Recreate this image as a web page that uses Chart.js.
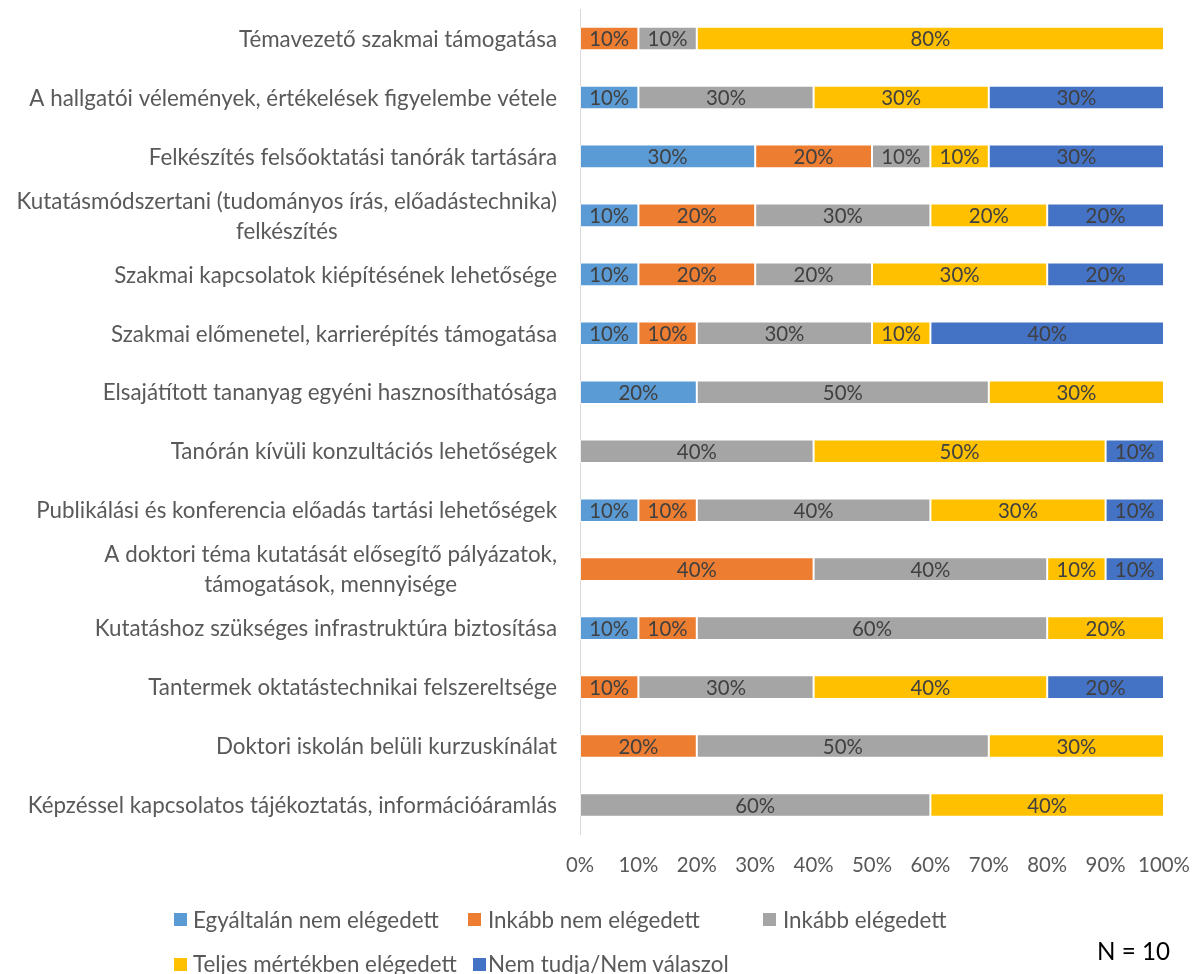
<!DOCTYPE html>
<html>
<head>
<meta charset="utf-8">
<script src="https://cdn.jsdelivr.net/npm/chart.js@4.4.1/dist/chart.umd.min.js"></script>
<style>
html,body{margin:0;padding:0;background:#fff;}
#wrap{position:relative;width:1193px;height:974px;overflow:hidden;font-family:Lato,"Open Sans",sans-serif;}
#c{position:absolute;left:0;top:0;}
.lg{position:absolute;white-space:nowrap;color:#595959;}
.mk{position:absolute;width:13px;height:13px;}
#nlabel{position:absolute;white-space:nowrap;color:#000;}
</style>
</head>
<body>
<div id="wrap">
<canvas id="c" width="1193" height="974"></canvas>
<div id="legend"></div>
<div id="nlabel">N = 10</div>
</div>
<script>
// ---- data ----
const categories = [
  'Témavezető szakmai támogatása',
  'A hallgatói vélemények, értékelések figyelembe vétele',
  'Felkészítés felsőoktatási tanórák tartására',
  ['Kutatásmódszertani (tudományos írás, előadástechnika)', 'felkészítés'],
  'Szakmai kapcsolatok kiépítésének lehetősége',
  'Szakmai előmenetel, karrierépítés támogatása',
  'Elsajátított tananyag egyéni hasznosíthatósága',
  'Tanórán kívüli konzultációs lehetőségek',
  'Publikálási és konferencia előadás tartási lehetőségek',
  ['A doktori téma kutatását elősegítő pályázatok,', 'támogatások, mennyisége'],
  'Kutatáshoz szükséges infrastruktúra biztosítása',
  'Tantermek oktatástechnikai felszereltsége',
  'Doktori iskolán belüli kurzuskínálat',
  'Képzéssel kapcsolatos tájékoztatás, információáramlás'
];
const seriesNames = ['Egyáltalán nem elégedett', 'Inkább nem elégedett', 'Inkább elégedett', 'Teljes mértékben elégedett', 'Nem tudja/Nem válaszol'];
const egyaltalanNem   = [0, 10, 30, 10, 10, 10, 20, 0, 10, 0, 10, 0, 0, 0];
const inkabbNem       = [10, 0, 20, 20, 20, 10, 0, 0, 10, 40, 10, 10, 20, 0];
const inkabbElegedett = [10, 30, 10, 30, 20, 30, 50, 40, 40, 40, 60, 30, 50, 60];
const teljesen        = [80, 30, 10, 20, 30, 10, 30, 50, 30, 10, 20, 40, 30, 40];
const nemTudja        = [0, 30, 30, 20, 20, 40, 0, 10, 10, 10, 0, 20, 0, 0];
const xTickValues = [0, 10, 20, 30, 40, 50, 60, 70, 80, 90, 100];
const seriesColors = ['#5B9BD5', '#ED7D31', '#A5A5A5', '#FFC000', '#4472C4'];
const noteText = 'N = 10';

// ---- styling helpers ----
const FAMILY = 'Lato, "Open Sans", sans-serif';
const mctx = document.createElement('canvas').getContext('2d');
function fitSize(text, target) {
  mctx.font = '100px ' + FAMILY;
  return 100 * target / mctx.measureText(text).width;
}

function build() {
  const axisFont = fitSize('Publikálási és konferencia előadás tartási lehetőségek', 521);
  const dataFont = fitSize('10%', 40);
  const legendFont = fitSize('Inkább nem elégedett', 212);
  const nFont = fitSize('N = 10', 73);

  const seriesData = [egyaltalanNem, inkabbNem, inkabbElegedett, teljesen, nemTudja];

  const yLabelPlugin = {
    id: 'yLabels',
    afterDraw(chart) {
      const ctx = chart.ctx;
      const ys = chart.scales.y;
      const right = chart.chartArea.left - 23;
      ctx.save();
      ctx.font = axisFont + 'px ' + FAMILY;
      ctx.fillStyle = '#595959';
      ctx.textBaseline = 'middle';
      ctx.textAlign = 'center';
      const lh = 30;
      categories.forEach((lab, i) => {
        const cy = ys.getPixelForValue(i);
        const lines = Array.isArray(lab) ? lab : [lab];
        const maxW = Math.max(...lines.map(l => ctx.measureText(l).width));
        const cx = right - maxW / 2;
        lines.forEach((l, k) => {
          ctx.fillText(l, cx, cy + (k - (lines.length - 1) / 2) * lh + 1);
        });
      });
      ctx.restore();
    }
  };

  const dataLabelPlugin = {
    id: 'dataLabels',
    afterDatasetsDraw(chart) {
      const ctx = chart.ctx;
      ctx.save();
      ctx.font = dataFont + 'px ' + FAMILY;
      ctx.fillStyle = '#404040';
      ctx.textAlign = 'center';
      ctx.textBaseline = 'middle';
      chart.data.datasets.forEach((ds, i) => {
        const meta = chart.getDatasetMeta(i);
        meta.data.forEach((bar, j) => {
          const v = ds.data[j];
          if (!v) return;
          ctx.fillText(v + '%', (bar.x + bar.base) / 2, bar.y + 1);
        });
      });
      ctx.restore();
    }
  };

  new Chart(document.getElementById('c'), {
    type: 'bar',
    data: {
      labels: categories,
      datasets: seriesNames.map((name, i) => ({
        label: name,
        data: seriesData[i],
        backgroundColor: seriesColors[i],
        borderColor: 'rgba(255,255,255,0.55)',
        borderWidth: 1,
        borderSkipped: false,
        categoryPercentage: 1,
        barPercentage: 0.4
      }))
    },
    options: {
      indexAxis: 'y',
      responsive: false,
      animation: false,
      events: [],
      layout: { padding: { top: 9, right: 29, left: 0, bottom: 0 } },
      plugins: {
        legend: { display: false },
        tooltip: { enabled: false }
      },
      scales: {
        x: {
          stacked: true,
          min: 0,
          max: 100,
          afterBuildTicks(scale) { scale.ticks = xTickValues.map(v => ({ value: v })); },
          afterFit(scale) {
            scale.height = 139.5;
            scale.paddingLeft = 0;
            scale.paddingRight = 0;
          },
          grid: { display: false, drawTicks: false },
          border: { display: false },
          ticks: {
            padding: 19,
            maxRotation: 0,
            autoSkip: false,
            color: '#595959',
            font: { family: FAMILY, size: dataFont },
            callback: v => v + '%'
          }
        },
        y: {
          stacked: true,
          afterFit(scale) { scale.width = 580; },
          grid: { display: false, drawTicks: false },
          border: { display: true, color: '#D9D9D9', width: 1 },
          ticks: { display: false }
        }
      }
    },
    plugins: [dataLabelPlugin, yLabelPlugin]
  });

  // ---- legend (HTML text) ----
  const legendPos = [
    { mx: 174, tx: 193, cy: 919.5 },
    { mx: 468, tx: 488, cy: 919.5 },
    { mx: 763, tx: 783, cy: 919.5 },
    { mx: 174, tx: 193, cy: 964 },
    { mx: 473, tx: 488, cy: 964 }
  ];
  const lg = document.getElementById('legend');
  seriesNames.forEach((name, i) => {
    const p = legendPos[i];
    const mk = document.createElement('div');
    mk.className = 'mk';
    mk.style.left = p.mx + 'px';
    mk.style.top = (p.cy - 6.5) + 'px';
    mk.style.background = seriesColors[i];
    lg.appendChild(mk);
    const t = document.createElement('div');
    t.className = 'lg';
    t.textContent = name;
    t.style.fontSize = legendFont + 'px';
    t.style.lineHeight = '30px';
    t.style.left = p.tx + 'px';
    t.style.top = (p.cy - 15) + 'px';
    lg.appendChild(t);
  });
  const nl = document.getElementById('nlabel');
  nl.textContent = noteText;
  nl.style.fontSize = nFont + 'px';
  nl.style.lineHeight = '30px';
  nl.style.left = '1097px';
  nl.style.top = (951 - 15) + 'px';
}

if (document.fonts && document.fonts.load) {
  document.fonts.load('20px Lato').then(build, build);
} else {
  build();
}
</script>
</body>
</html>
